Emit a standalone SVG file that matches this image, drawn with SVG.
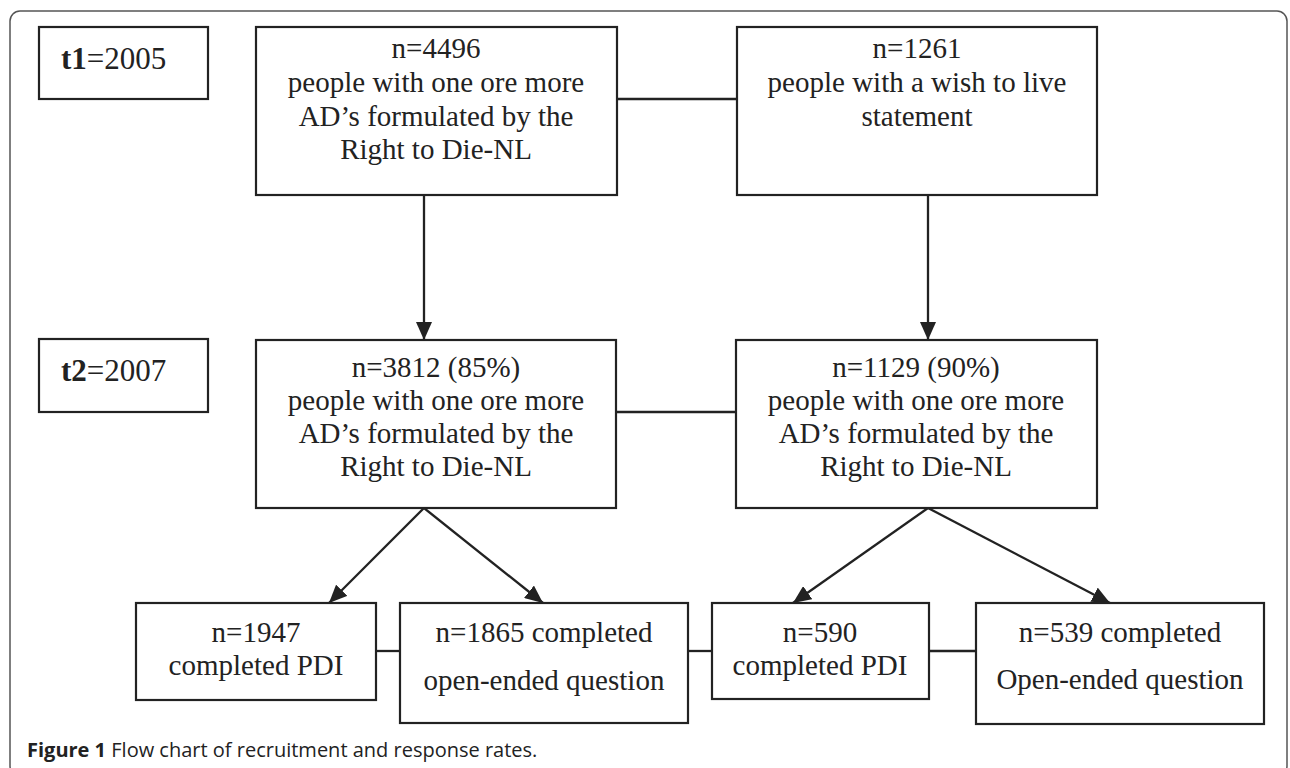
<svg xmlns="http://www.w3.org/2000/svg" width="1290" height="768" viewBox="0 0 1290 768">
<style>
.box{fill:#fff;stroke:#222;stroke-width:2.2}
.t{font-family:"Liberation Serif","Times New Roman",serif;font-size:29px;fill:#222;text-anchor:middle}
.lbl{font-family:"Liberation Serif","Times New Roman",serif;font-size:31px;fill:#222}
.ln{stroke:#222;stroke-width:2.3;fill:none}
.cap{font-family:"Open Sans","Liberation Sans",sans-serif;font-size:20px;fill:#222}
</style>
<defs>
<marker id="ah" markerUnits="userSpaceOnUse" markerWidth="18" markerHeight="16" refX="18" refY="8" orient="auto">
<path d="M0,0 L18,8 L0,16 Z" fill="#222"/>
</marker>
</defs>
<rect x="10" y="11" width="1277" height="765" rx="10" fill="#fff" stroke="#555" stroke-width="1.5"/>
<g id="connectors">
<line class="ln" x1="617" y1="99" x2="737" y2="99"/>
<line class="ln" x1="616" y1="412" x2="736" y2="412"/>
<line class="ln" x1="376" y1="651" x2="400" y2="651"/>
<line class="ln" x1="688" y1="651" x2="712" y2="651"/>
<line class="ln" x1="929" y1="651" x2="976" y2="651"/>
<line class="ln" x1="424" y1="195" x2="424" y2="340" marker-end="url(#ah)"/>
<line class="ln" x1="928" y1="195" x2="928" y2="340" marker-end="url(#ah)"/>
<line class="ln" x1="424" y1="508" x2="329" y2="603" marker-end="url(#ah)"/>
<line class="ln" x1="424" y1="508" x2="543" y2="603" marker-end="url(#ah)"/>
<line class="ln" x1="928" y1="508" x2="793" y2="603" marker-end="url(#ah)"/>
<line class="ln" x1="928" y1="508" x2="1110" y2="603" marker-end="url(#ah)"/>
</g>
<g id="t1">
<rect class="box" x="39" y="27" width="169" height="72"/>
<text class="lbl" x="61" y="69"><tspan font-weight="bold">t1</tspan>=2005</text>
</g>
<g id="t2">
<rect class="box" x="39" y="339" width="169" height="73"/>
<text class="lbl" x="61" y="381"><tspan font-weight="bold">t2</tspan>=2007</text>
</g>
<g id="n4496">
<rect class="box" x="256" y="27" width="361" height="168"/>
<text class="t" x="436" y="58">n=4496</text>
<text class="t" x="436" y="92">people with one ore more</text>
<text class="t" x="436" y="126">AD’s formulated by the</text>
<text class="t" x="436" y="159">Right to Die-NL</text>
</g>
<g id="n1261">
<rect class="box" x="737" y="27" width="360" height="168"/>
<text class="t" x="917" y="58">n=1261</text>
<text class="t" x="917" y="92">people with a wish to live</text>
<text class="t" x="917" y="126">statement</text>
</g>
<g id="n3812">
<rect class="box" x="256" y="340" width="360" height="168"/>
<text class="t" x="436" y="377">n=3812 (85%)</text>
<text class="t" x="436" y="410">people with one ore more</text>
<text class="t" x="436" y="443">AD’s formulated by the</text>
<text class="t" x="436" y="476">Right to Die-NL</text>
</g>
<g id="n1129">
<rect class="box" x="736" y="340" width="361" height="168"/>
<text class="t" x="916" y="377">n=1129 (90%)</text>
<text class="t" x="916" y="410">people with one ore more</text>
<text class="t" x="916" y="443">AD’s formulated by the</text>
<text class="t" x="916" y="476">Right to Die-NL</text>
</g>
<g id="n1947">
<rect class="box" x="136" y="603" width="240" height="97"/>
<text class="t" x="256" y="642">n=1947</text>
<text class="t" x="256" y="675">completed PDI</text>
</g>
<g id="n1865">
<rect class="box" x="400" y="603" width="288" height="120"/>
<text class="t" x="544" y="642">n=1865 completed</text>
<text class="t" x="544" y="690">open-ended question</text>
</g>
<g id="n590">
<rect class="box" x="712" y="603" width="217" height="96"/>
<text class="t" x="820" y="642">n=590</text>
<text class="t" x="820" y="675">completed PDI</text>
</g>
<g id="n539">
<rect class="box" x="976" y="603" width="288" height="121"/>
<text class="t" x="1120" y="642">n=539 completed</text>
<text class="t" x="1120" y="689">Open-ended question</text>
</g>
<text class="cap" x="27" y="757"><tspan font-weight="bold">Figure 1</tspan> Flow chart of recruitment and response rates.</text>
</svg>
